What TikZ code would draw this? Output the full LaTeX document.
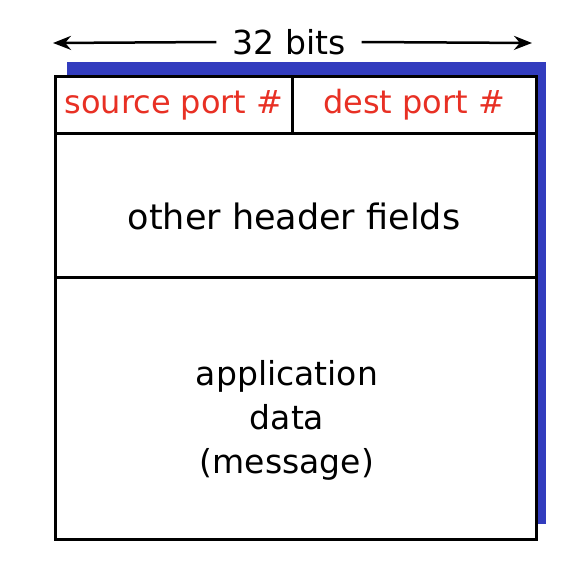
\documentclass[tikz,border=0pt]{standalone}
\usepackage{fontspec}
\setmainfont{DejaVu Sans}
\usetikzlibrary{arrows.meta}
\definecolor{shadowblue}{RGB}{50,60,190}
\definecolor{fieldred}{RGB}{232,48,36}
\tikzset{
  px/.style={x=1pt,y=-1pt},
  frame/.style={draw=black,line width=3pt},
  lbl/.style={font=\fontsize{33}{44}\selectfont,align=center,inner sep=0pt},
  redlbl/.style={lbl,font=\fontsize{32}{44}\selectfont,text=fieldred},
  dimarrow/.style={-{Stealth[length=18pt,width=14pt]},line width=2.5pt}
}
\begin{document}
\begin{tikzpicture}[px]
\useasboundingbox (0,0) rectangle (582,570);
\fill[shadowblue] (67,62) rectangle (546,524);
\fill[white] (55,76) rectangle (536,539);
\draw[frame] (55,76) rectangle (536,539);
\draw[frame] (55,133) -- (536,133);
\draw[frame] (55,277) -- (536,277);
\draw[frame] (292,76) -- (292,133);
\node[lbl] (bits) at (289,42) {32 bits};
\coordinate (lt) at (53,43);
\coordinate (rt) at (532,43);
\draw[dimarrow] (bits.west) ++(-16pt,0) coordinate (bl) -- (lt);
\draw[dimarrow] (bits.east) ++(16pt,0) coordinate (br) -- (rt);
\node[redlbl] (src) at (174,105) {source port \#};
\node[redlbl] (dst) at (414,105) {dest port \#};
\node[lbl,font=\fontsize{35}{44}\selectfont] (other) at (294,216) {other header fields};
\node[lbl] (app) at (287,420) {application\\data\\(message)};
\end{tikzpicture}
\end{document}
